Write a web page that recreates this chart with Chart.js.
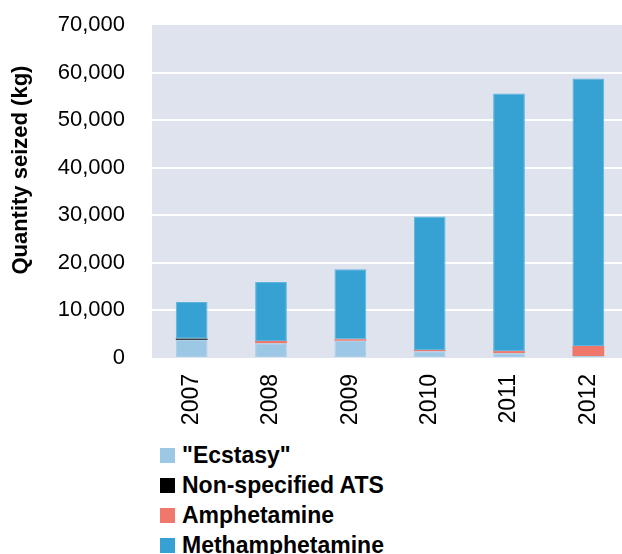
<!DOCTYPE html>
<html>
<head>
<meta charset="utf-8">
<script src="https://cdn.jsdelivr.net/npm/chart.js@4"></script>
<style>
    body { margin: 0; background: #fff; overflow: hidden; }
    #wrap { position: relative; width: 622px; height: 554px; overflow: hidden; }
    #legend { position: absolute; left: 160px; top: 440px; font: bold 23px "Liberation Sans", Arial, sans-serif; color: #000; }
    .item { height: 30px; display: flex; align-items: center; }
    .box { width: 15px; height: 15px; margin-right: 7px; }
</style>
</head>
<body>
<div id="wrap">
    <canvas id="atsChart" width="628" height="430"></canvas>
    <div id="legend"></div>
</div>
<script>
const years = ["2007", "2008", "2009", "2010", "2011", "2012"];
const ecstasy = [3850, 3090, 3630, 1430, 1020, 420];
const nonSpecified = [200, 0, 0, 0, 0, 0];
const amphetamine = [0, 480, 290, 250, 430, 2100];
const methamphetamine = [7710, 12400, 14710, 28090, 54150, 56230];

const yTicks = [0, 10000, 20000, 30000, 40000, 50000, 60000, 70000];

const plotBackground = {
    id: "plotBackground",
    beforeDraw(chart) {
        const { ctx, chartArea } = chart;
        ctx.save();
        ctx.fillStyle = "#DFE3EE";
        ctx.fillRect(chartArea.left, chartArea.top, chartArea.right - chartArea.left, chartArea.bottom - chartArea.top);
        ctx.restore();
    }
};

function makeSet(label, data, color, border) {
    return {
        label: label,
        data: data,
        backgroundColor: color,
        borderColor: border || color,
        borderWidth: border ? 1 : 0,
        borderSkipped: false,
        barPercentage: 0.4,
        categoryPercentage: 1
    };
}

// drop the auto padding the scales ask for, the layout padding handles it
function noPad(scale) {
    scale.paddingTop = 0;
    scale.paddingBottom = 0;
    scale.paddingLeft = 0;
    scale.paddingRight = 0;
}

const chart = new Chart(document.getElementById("atsChart"), {
    type: "bar",
    data: {
        labels: years,
        datasets: [
            makeSet('"Ecstasy"', ecstasy, "#9DC8E5", "#A8CFE9"),
            makeSet("Non-specified ATS", nonSpecified, "#000000"),
            makeSet("Amphetamine", amphetamine, "#EF776B"),
            makeSet("Methamphetamine", methamphetamine, "#36A2D3", "#5DB4DD")
        ]
    },
    options: {
        responsive: false,
        animation: false,
        layout: { padding: { left: 8, top: 25, right: 0, bottom: 5 } },
        plugins: {
            legend: { display: false },
            tooltip: { enabled: false }
        },
        scales: {
            x: {
                stacked: true,
                afterFit: scale => { scale.height = 67; noPad(scale); },
                grid: { display: false, drawTicks: false },
                border: { display: false },
                ticks: {
                    maxRotation: 90,
                    minRotation: 90,
                    padding: 16,
                    color: "#000",
                    font: { family: "'Liberation Sans', Arial, sans-serif", size: 23 }
                }
            },
            y: {
                stacked: true,
                min: 0,
                max: 70000,
                afterFit: scale => { scale.width = 144; noPad(scale); },
                afterBuildTicks: scale => {
                    scale.ticks = yTicks.map(v => ({ value: v }));
                },
                grid: {
                    drawTicks: false,
                    lineWidth: 2,
                    color: ctx => (ctx.tick && (ctx.tick.value === 0 || ctx.tick.value === 70000)) ? "rgba(0,0,0,0)" : "#FFFFFF"
                },
                border: { display: false },
                ticks: {
                    padding: 27,
                    color: "#000",
                    font: { family: "'Liberation Sans', Arial, sans-serif", size: 22 },
                    callback: v => v.toLocaleString("en-US")
                },
                title: {
                    display: true,
                    // leading spaces sit at the bottom of the rotated title and nudge it up
                    text: "\u00A0".repeat(7) + "Quantity seized (kg)",
                    color: "#000",
                    padding: { top: 0, bottom: 20 },
                    font: { family: "'Liberation Sans', Arial, sans-serif", size: 22, weight: "bold" }
                }
            }
        }
    },
    plugins: [plotBackground]
});

// vertical legend under the chart, built from the datasets
const legendEl = document.getElementById("legend");
chart.data.datasets.forEach(ds => {
    const row = document.createElement("div");
    row.className = "item";
    const box = document.createElement("span");
    box.className = "box";
    box.style.background = ds.backgroundColor;
    const txt = document.createElement("span");
    txt.textContent = ds.label;
    row.appendChild(box);
    row.appendChild(txt);
    legendEl.appendChild(row);
});
</script>
</body>
</html>
